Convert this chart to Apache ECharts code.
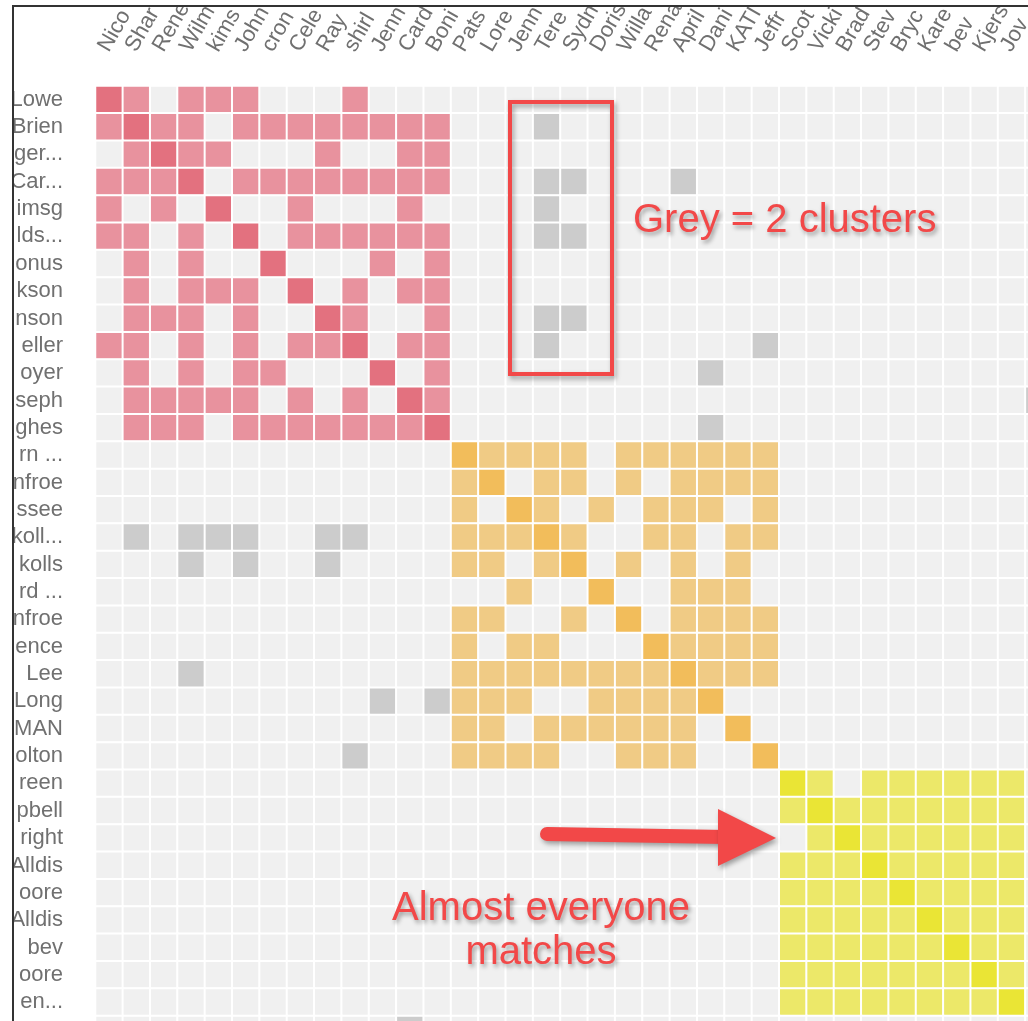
<!DOCTYPE html>
<html>
<head>
<meta charset="utf-8">
<script src="https://cdn.jsdelivr.net/npm/echarts@6/dist/echarts.min.js"></script>
<style>
html,body{margin:0;padding:0;background:#fff;}
#chart{width:1028px;height:1021px;}
</style>
</head>
<body>
<div id="chart"></div>
<script>
// Column (person) labels, as visible (clipped) in the picture
const xLabels = ["Nico","Shar","Rene","Wilm","kims","John","cron","Cele","Ray","shirl","Jenn","Card","Boni",
  "Pats","Lore","Jenn","Tere","Sydn","Doris","Willa","Rena","April","Dani","KATI","Jeffr",
  "Scot","Vicki","Brad","Stev","Bryc","Kare","bev","Kjers","Jov",""];
// Row labels, as visible (clipped) in the picture
const yLabels = ["Lowe","Brien","ger...","Car...","imsg","lds...","onus","kson","nson","eller","oyer","seph","ghes",
  "rn ...","nfroe","ssee","koll...","kolls","rd ...","nfroe","ence","Lee","Long","MAN","olton",
  "reen","pbell","right","Alldis","oore","Alldis","bev","oore","en...",""];
// Cell codes per row: '.' no match, 'g' grey (2 clusters), 'r'/'R' red cluster (R = self),
// 'o'/'O' orange cluster, 'y'/'Y' yellow cluster. '|' only separates the blocks.
const cellRows = [
  "Rr.rrr...r...|............|.........|.",
  "rRrr.rrrrrrrr|...g........|.........|.",
  ".rRrr...r..rr|............|.........|.",
  "rrrR.rrrrrrrr|...gg...g...|.........|.",
  "r.r.R..r...r.|...g........|.........|.",
  "rr.r.R.rrrrrr|...gg.......|.........|.",
  ".r.r..R...r.r|............|.........|.",
  ".r.rrr.R.r.rr|............|.........|.",
  ".rrr.r..Rr..r|...gg.......|.........|.",
  "rr.r.r.rrR.rr|...g.......g|.........|.",
  ".r.r.rr...R.r|.........g..|.........|.",
  ".rrrrr.r.r.Rr|............|.........|g",
  ".rrr.rrrrrrrR|.........g..|.........|.",
  ".............|Ooooo.oooooo|.........|.",
  ".............|oO.oo.o.oooo|.........|.",
  ".............|o.Oo.o.ooo.o|.........|.",
  ".g.ggg..gg...|oooOo..oo.oo|.........|.",
  "...g.g..g....|oo.oO.o.o.o.|.........|.",
  ".............|..o..O..ooo.|.........|.",
  ".............|oo..o.O.oooo|.........|.",
  ".............|o.oo...Ooooo|.........|.",
  "...g.........|ooooooooOooo|.........|.",
  "..........g.g|ooo..ooooO..|.........|.",
  ".............|oo.oooooo.O.|.........|.",
  ".........g...|oooo..ooo..O|.........|.",
  ".............|............|Yy.yyyyyy|.",
  ".............|............|yYyyyyyyy|.",
  ".............|............|.yYyyyyyy|.",
  ".............|............|yyyYyyyyy|.",
  ".............|............|yyyyYyyyy|.",
  ".............|............|yyyyyYyyy|.",
  ".............|............|yyyyyyYyy|.",
  ".............|............|yyyyyyyYy|.",
  ".............|............|yyyyyyyyY|.",
  "...........g.|............|.........|."
];
const codeOrder = [".","g","r","R","o","O","y","Y"];
const codeColors = ["#f0f0f0","#cccccc","#e8929e","#e3717f","#f0cb85","#f2bd5b","#ece869","#eae535"];

const data = [];
cellRows.forEach((row, yi) => {
  row.replace(/\|/g, "").split("").forEach((ch, xi) => {
    data.push([xi, yi, codeOrder.indexOf(ch)]);
  });
});

const CELL = 27.35;
const N = xLabels.length;
const FONT = "'Liberation Sans', Arial, sans-serif";
const RED = "#f24848";
const SH = {textShadowColor: "rgba(0,0,0,0.35)", textShadowBlur: 4, textShadowOffsetX: 2, textShadowOffsetY: 3};
const hidden = {axisLine: {show: false}, axisTick: {show: false}, splitLine: {show: false}};

const chart = echarts.init(document.getElementById("chart"), null, {renderer: "canvas"});
chart.setOption({
  backgroundColor: "#ffffff",
  animation: false,
  grid: [
    {left: 95.5, top: 86, width: CELL * N, height: CELL * yLabels.length, containLabel: false, outerBoundsMode: "none"},
    // label-only grid, shifted so the rotated names start where they do in the picture
    {left: 103.5, top: 86, width: CELL * N, height: CELL * yLabels.length, containLabel: false, outerBoundsMode: "none"}
  ],
  xAxis: [
    {type: "category", gridIndex: 0, data: xLabels, position: "bottom", show: false},
    Object.assign({type: "category", gridIndex: 1, data: xLabels.concat([""]), position: "top", boundaryGap: false,
     axisLabel: {interval: 0, rotate: -60, margin: 36, fontSize: 22, color: "#707070", fontFamily: FONT}}, hidden)
  ],
  yAxis: [
    Object.assign({type: "category", gridIndex: 0, data: yLabels, inverse: true,
      axisLabel: {interval: 0, margin: 32.5, fontSize: 22, color: "#707070", fontFamily: FONT}}, hidden),
    {type: "category", gridIndex: 1, data: yLabels, show: false}
  ],
  visualMap: {type: "piecewise", show: false, dimension: 2, seriesIndex: 0,
    pieces: codeColors.map((c, i) => ({value: i, color: c}))},
  series: [{
    type: "heatmap", xAxisIndex: 0, yAxisIndex: 0, data: data,
    itemStyle: {borderColor: "#ffffff", borderWidth: 2},
    emphasis: {disabled: true}, label: {show: false}
  }],
  graphic: [
    {type: "rect", z: 100, shape: {x: 0, y: 0, width: 12, height: 1021}, style: {fill: "#fff"}},
    {type: "rect", z: 100, shape: {x: 0, y: 0, width: 1028, height: 5}, style: {fill: "#fff"}},
    {type: "line", z: 101, shape: {x1: 13, y1: 5, x2: 13, y2: 1021}, style: {stroke: "#333", lineWidth: 2}},
    {type: "line", z: 101, shape: {x1: 12, y1: 6, x2: 1028, y2: 6}, style: {stroke: "#333", lineWidth: 2}},
    {type: "rect", z: 102, shape: {x: 510, y: 102, width: 102, height: 272},
     style: {fill: null, stroke: RED, lineWidth: 4, shadowColor: "rgba(0,0,0,0.35)", shadowBlur: 5, shadowOffsetX: 2, shadowOffsetY: 3}},
    {type: "text", z: 102, x: 633, y: 221,
     style: Object.assign({text: "Grey = 2 clusters", fill: RED, font: "40px " + FONT, textVerticalAlign: "middle"}, SH)},
    {type: "line", z: 102, shape: {x1: 547, y1: 834, x2: 726, y2: 837},
     style: {stroke: RED, lineWidth: 14, lineCap: "round", shadowColor: "rgba(0,0,0,0.35)", shadowBlur: 5, shadowOffsetX: 2, shadowOffsetY: 3}},
    {type: "polygon", z: 103, shape: {points: [[718, 809], [776, 838], [718, 866]]},
     style: {fill: RED, shadowColor: "rgba(0,0,0,0.35)", shadowBlur: 5, shadowOffsetX: 2, shadowOffsetY: 3}},
    {type: "text", z: 102, x: 541, y: 909,
     style: Object.assign({text: "Almost everyone", fill: RED, font: "40px " + FONT, textAlign: "center", textVerticalAlign: "middle"}, SH)},
    {type: "text", z: 102, x: 541, y: 953,
     style: Object.assign({text: "matches", fill: RED, font: "40px " + FONT, textAlign: "center", textVerticalAlign: "middle"}, SH)}
  ]
});
</script>
</body>
</html>
